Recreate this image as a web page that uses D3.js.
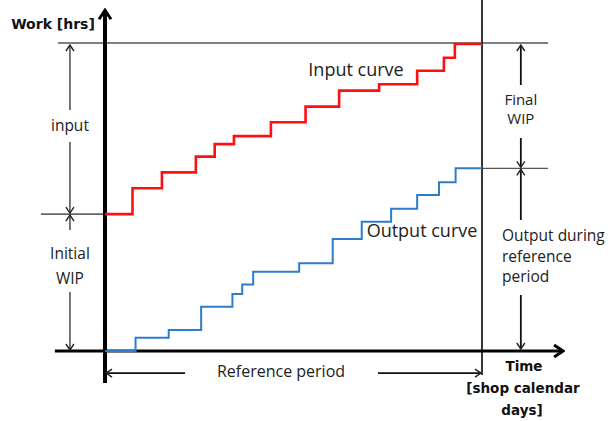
<!DOCTYPE html>
<html>
<head>
<meta charset="utf-8">
<script src="https://cdn.jsdelivr.net/npm/d3@7"></script>
<style>
  body { margin: 0; background: #fff; }
  text { font-family: "Open Sans", sans-serif; fill: #222; }
  .bold { font-family: "DejaVu Sans", sans-serif; font-weight: bold; fill: #111; }
</style>
</head>
<body>
<div id="plot"></div>
<script>
// Input curve: day of each step and cumulative work after it
const inputDays = [0, 7.3, 15.1, 24.1, 29.1, 34.2, 44, 53.2, 62.1, 72.7, 82.8, 89.9, 92.8, 100];
const inputWork = [44.6, 53, 58.2, 63.3, 67.4, 70, 74.5, 79.6, 84.8, 86.9, 91.3, 95.5, 100, 100];
// Output curve
const outputDays = [0, 8.1, 16.9, 25.5, 33.8, 36.4, 39.3, 51.5, 60.4, 68.1, 75.9, 82.8, 88.6, 93, 100];
const outputWork = [0, 4.3, 6.8, 14.4, 18.6, 21.7, 25.8, 28.6, 36.5, 42.1, 46.3, 50.8, 55, 59.5, 59.5];
// levels marked on the chart
const initialWip = 44.6;
const finalInput = 100;
const finalOutput = 59.5;
const periodEnd = 100;

const labels = {
  yAxis: 'Work [hrs]',
  xAxis: ['Time', '[shop calendar', 'days]'],
  input: 'Input curve',
  output: 'Output curve',
  period: 'Reference period'
};

function draw() {
  const W = 616, H = 421;
  const svg = d3.select('#plot')
        .append('svg')
        .attr('width', W)
        .attr('height', H);

  const x = d3.scaleLinear().domain([0, 100]).range([105, 482]);
  const y = d3.scaleLinear().domain([0, 100]).range([351, 44]);

  const defs = svg.append('defs');
  // open chevron arrowhead
  defs.append('marker')
    .attr('id', 'head')
    .attr('viewBox', '-8 -5 10 10')
    .attr('markerWidth', 10).attr('markerHeight', 10)
    .attr('markerUnits', 'userSpaceOnUse')
    .attr('orient', 'auto')
    .append('path')
    .attr('d', 'M-6,-4 L0,0 L-6,4')
    .attr('fill', 'none')
    .attr('stroke', '#222')
    .attr('stroke-width', 1.4);
  defs.append('marker')
    .attr('id', 'axhead')
    .attr('viewBox', '-12 -8 14 16')
    .attr('markerWidth', 14).attr('markerHeight', 16)
    .attr('markerUnits', 'userSpaceOnUse')
    .attr('orient', 'auto')
    .append('path')
    .attr('d', 'M-9,-6 L0,0 L-9,6')
    .attr('fill', 'none')
    .attr('stroke', '#000')
    .attr('stroke-width', 3);

  const line = d3.line().x(d => x(d[0])).y(d => y(d[1]));
  const seg = (g, a, b, opts) => g.append('line')
        .attr('x1', a[0]).attr('y1', a[1])
        .attr('x2', b[0]).attr('y2', b[1])
        .attr('stroke', opts.color || '#000')
        .attr('stroke-width', opts.w || 1)
        .attr('marker-end', opts.head ? `url(#${opts.head})` : null);

  const g = svg.append('g');

  // reference lines
  seg(g, [x(-12.5), y(finalInput) - 1], [x(117.5), y(finalInput) - 1], {w: 1.2});
  seg(g, [x(-17), y(initialWip)], [x(0), y(initialWip)], {color: '#666', w: 1.6});
  seg(g, [x(periodEnd), y(finalOutput)], [x(117.5), y(finalOutput)], {color: '#555', w: 1.4});
  seg(g, [x(periodEnd), 0], [x(periodEnd), y(-7.8)], {color: '#222', w: 1.8});

  // axes
  seg(g, [x(-13.3), y(0)], [x(121.5), y(0)], {w: 3.2, head: 'axhead'});
  seg(g, [x(0), y(-10.4)], [x(0), y(111)], {w: 4, head: 'axhead'});

  // curves
  g.append('path')
    .datum(outputDays.map((d, i) => [d, outputWork[i]]))
    .attr('fill', 'none')
    .attr('stroke', '#2a7ecb')
    .attr('stroke-width', 2)
    .attr('d', line.curve(d3.curveStepAfter));
  g.append('path')
    .datum(inputDays.map((d, i) => [d, inputWork[i]]))
    .attr('fill', 'none')
    .attr('stroke', '#ff1010')
    .attr('stroke-width', 2.6)
    .attr('d', line.curve(d3.curveStepAfter));

  // double arrows with a gap for the label
  function dim(px, yTop, yBot, gapTop, gapBot, color, w) {
    seg(g, [px, gapTop], [px, yTop], {color, w, head: 'head'});
    seg(g, [px, gapBot], [px, yBot], {color, w, head: 'head'});
  }
  const lx = x(-9.3), rx = x(110.3);
  dim(lx, y(finalInput) + 1, y(initialWip) - 1, 110, 142, '#555', 1.6);
  dim(lx, y(initialWip) + 1, y(0) - 1, 230, 292, '#555', 1.6);
  dim(rx, y(finalInput) + 1, y(finalOutput) - 1, 85, 138, '#111', 1.8);
  dim(rx, y(finalOutput) + 1, y(0) - 2, 220, 295, '#111', 1.8);

  // reference period arrow
  const py = y(-7.2);
  seg(g, [185, py], [x(0) + 1, py], {color: '#111', w: 1.8, head: 'head'});
  seg(g, [378, py], [x(periodEnd) - 1, py], {color: '#111', w: 1.8, head: 'head'});

  // texts
  const txt = (s, tx, ty, size, cls, anchor) => svg.append('text')
        .attr('x', tx).attr('y', ty)
        .attr('class', cls || null)
        .attr('text-anchor', anchor || 'middle')
        .attr('dominant-baseline', 'middle')
        .style('font-size', size + 'px')
        .text(s);

  txt(labels.yAxis, 53, 25, 14, 'bold');
  txt(labels.xAxis[0], 524, 367, 13.5, 'bold');
  txt(labels.xAxis[1], 523, 389, 13.5, 'bold');
  txt(labels.xAxis[2], 522, 411, 13.5, 'bold');

  txt(labels.input, 356, 71, 18);
  txt(labels.output, 422, 232, 18);
  txt(labels.period, 281, 373, 16);

  txt('input', lx, 127, 15.5);
  txt('Initial', lx, 255, 15.5);
  txt('WIP', lx, 280, 15.5);
  txt('Final', rx, 101, 15);
  txt('WIP', rx, 120, 15);
  txt('Output during', 502, 237, 15.5, null, 'start');
  txt('reference', 502, 258, 15.5, null, 'start');
  txt('period', 502, 278, 15.5, null, 'start');
}

draw();
</script>
</body>
</html>
